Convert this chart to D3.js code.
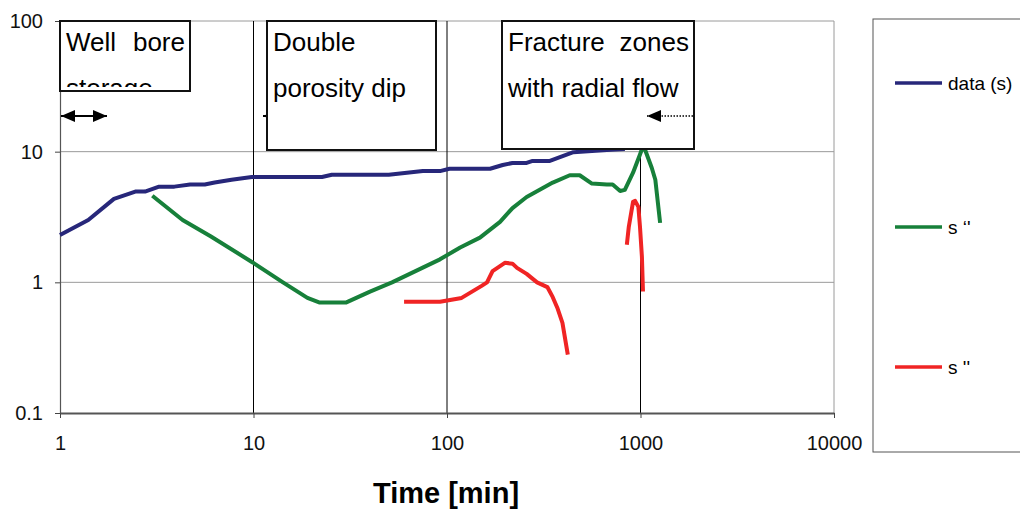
<!DOCTYPE html>
<html>
<head>
<meta charset="utf-8">
<script src="https://cdn.jsdelivr.net/npm/d3@7"></script>
<style>
  body { margin: 0; background: #fff; }
  svg { display: block; font-family: Arial, "Liberation Sans", sans-serif; }
</style>
</head>
<body>
<svg id="contenedor"></svg>
<script>
// datos: [tiempo (min), valor]
let datosS = [
  [1, 2.3], [1.4, 3.0], [1.9, 4.35], [2.45, 4.95], [2.75, 4.95], [3.25, 5.4],
  [3.9, 5.4], [4.7, 5.6], [5.6, 5.6], [6.3, 5.8], [7.7, 6.1], [9.8, 6.4],
  [22.6, 6.4], [25.4, 6.65], [50, 6.65], [75, 7.1], [92, 7.1], [103, 7.4],
  [167, 7.4], [194, 7.9], [218, 8.2], [258, 8.2], [277, 8.5], [340, 8.5],
  [450, 9.9], [670, 10.3], [830, 10.5]
];

let derivadaVerde = [
  [3.0, 4.6], [4.3, 3.0], [6.0, 2.25], [9.9, 1.42], [14.2, 1.0], [19, 0.76],
  [22, 0.7], [30, 0.7], [40, 0.85], [52, 1.0], [92, 1.5], [117, 1.85],
  [148, 2.2], [188, 2.9], [218, 3.7], [258, 4.5], [352, 5.8], [431, 6.6],
  [485, 6.6], [561, 5.7], [670, 5.6], [718, 5.6], [785, 5.0], [830, 5.1],
  [915, 6.9], [994, 9.5], [1030, 11], [1057, 10.3], [1144, 7.5], [1193, 6.1],
  [1263, 2.85]
];

// null = corte entre los dos tramos
let derivadaRoja = [
  [60, 0.71], [92, 0.71], [119, 0.76], [151, 0.94], [161, 1.0], [172, 1.22],
  [199, 1.41], [218, 1.39], [230, 1.29], [258, 1.16], [292, 1.0], [330, 0.92],
  [352, 0.77], [373, 0.63], [395, 0.49], [421, 0.28],
  null,
  [850, 1.94], [870, 2.66], [915, 4.13], [938, 4.2], [975, 3.78], [994, 2.66],
  [1017, 1.57], [1030, 0.85]
];

let ticksX = [1, 10, 100, 1000, 10000];
let ticksY = [0.1, 1, 10, 100];
let lineasGuia = [10, 100, 1000];
let nombresSeries = ["data (s)", "s \u2018'", "s ''"];

let colores = ["#27277a", "#17803a", "#f02424"];

// configuraciones de area para graficar
function getContenedorChartConfig() {
  let width = 1020;
  let height = 510;
  let margin = { top: 21, bottom: 97, left: 60, right: 186 };
  let bodyHeight = height - margin.top - margin.bottom;
  let bodyWidth = width - margin.left - margin.right;

  let container = d3.select("#contenedor");
  container.attr("width", width).attr("height", height);

  return { width, height, margin, bodyHeight, bodyWidth, container };
} // fin getContenedorChartConfig

// escalas logaritmicas
function getScales(config) {
  let { bodyWidth, bodyHeight } = config;
  let xScale = d3.scaleLog().domain([1, 10000]).range([0, bodyWidth]);
  let yScale = d3.scaleLog().domain([0.1, 100]).range([bodyHeight, 0]);
  return { xScale, yScale };
} // fin getScales

// rejilla y ejes
function dibujarAxes(scales, config) {
  let { xScale, yScale } = scales;
  let { container, margin, bodyWidth, bodyHeight } = config;

  let body = container.append("g")
    .attr("transform", `translate(${margin.left},${margin.top})`);

  // lineas horizontales grises
  body.selectAll(".gridY").data(ticksY.filter((d) => d > 0.1))
    .enter().append("line")
    .attr("x1", 0).attr("x2", bodyWidth)
    .attr("y1", (d) => yScale(d)).attr("y2", (d) => yScale(d))
    .attr("stroke", "#9a9a9a").attr("stroke-width", 1);

  // borde derecho
  body.append("line")
    .attr("x1", xScale(10000)).attr("x2", xScale(10000))
    .attr("y1", 0).attr("y2", bodyHeight)
    .attr("stroke", "#9a9a9a").attr("stroke-width", 1);

  // lineas verticales negras
  body.selectAll(".guia").data(lineasGuia)
    .enter().append("line")
    .attr("x1", (d) => xScale(d)).attr("x2", (d) => xScale(d))
    .attr("y1", 0).attr("y2", bodyHeight)
    .attr("stroke", "#000").attr("stroke-width", 1);

  let axisX = d3.axisBottom(xScale).tickValues(ticksX)
    .tickFormat((d) => String(d)).tickSize(5).tickSizeOuter(0).tickPadding(18);
  let gx = body.append("g")
    .attr("transform", `translate(0,${bodyHeight})`)
    .call(axisX);

  let axisY = d3.axisLeft(yScale).tickValues(ticksY)
    .tickFormat((d) => String(d)).tickSize(5).tickSizeOuter(0).tickPadding(12);
  let gy = body.append("g").call(axisY);

  [gx, gy].forEach((g) => {
    g.selectAll("text").attr("font-size", "20px").attr("fill", "#111")
      .attr("font-family", "Arial, 'Liberation Sans', sans-serif");
    g.selectAll(".tick line").attr("stroke", "#444");
  });
  gx.select(".domain").attr("stroke", "#555").attr("stroke-width", 2);
  gy.select(".domain").attr("stroke", "#555").attr("stroke-width", 1.2);

  // titulo eje x
  container.append("text")
    .attr("x", margin.left + xScale(100) - 1)
    .attr("y", 503)
    .attr("text-anchor", "middle")
    .attr("font-size", "29px")
    .attr("font-weight", "bold")
    .text("Time [min]");

  return body;
} // fin dibujarAxes

// dibujar las curvas
function dibujarLineas(body, scales) {
  let { xScale, yScale } = scales;
  let linea = d3.line()
    .defined((d) => d !== null)
    .x((d) => xScale(d[0]))
    .y((d) => yScale(d[1]));

  [datosS, derivadaVerde, derivadaRoja].forEach((serie, i) => {
    body.append("path")
      .datum(serie)
      .attr("d", linea)
      .attr("fill", "none")
      .attr("stroke", colores[i])
      .attr("stroke-width", 4)
      .attr("stroke-linejoin", "round");
  });
} // fin dibujarLineas

// cuadros de texto y flechas
function dibujarAnotaciones(container) {
  let defs = container.append("defs");
  defs.append("marker")
    .attr("id", "flecha")
    .attr("viewBox", "0 0 14 12")
    .attr("refX", 14).attr("refY", 6)
    .attr("markerWidth", 14).attr("markerHeight", 12)
    .attr("markerUnits", "userSpaceOnUse")
    .attr("orient", "auto-start-reverse")
    .append("path").attr("d", "M0,0 L14,6 L0,12 Z").attr("fill", "#000");

  defs.append("clipPath").attr("id", "recorte1")
    .append("rect").attr("x", 60).attr("y", 21).attr("width", 130).attr("height", 66);

  let g = container.append("g");

  // flecha tapada por el segundo cuadro
  g.append("line")
    .attr("x1", 300).attr("y1", 116).attr("x2", 263).attr("y2", 116)
    .attr("stroke", "#000").attr("stroke-width", 2)
    .attr("marker-end", "url(#flecha)");

  let cuadros = [
    { x: 60, y: 21, w: 130, h: 70, lineas: [["Well", "bore"], ["storage"]], recorte: true },
    { x: 267, y: 21, w: 169, h: 129, lineas: [["Double"], ["porosity dip"]] },
    { x: 502, y: 21, w: 192, h: 128, lineas: [["Fracture", "zones"], ["with radial flow"]] }
  ];

  cuadros.forEach((c) => {
    g.append("rect")
      .attr("x", c.x).attr("y", c.y).attr("width", c.w).attr("height", c.h)
      .attr("fill", "#fff").attr("stroke", "#111").attr("stroke-width", 2);

    let t = g.append("g");
    if (c.recorte) t.attr("clip-path", "url(#recorte1)");
    c.lineas.forEach((palabras, j) => {
      let y = c.y + 30 + j * 46;
      // primera palabra a la izquierda, la segunda justificada a la derecha
      t.append("text")
        .attr("x", c.x + 6).attr("y", y)
        .attr("font-size", "26px").attr("fill", "#000")
        .text(palabras[0]);
      if (palabras.length > 1) {
        t.append("text")
          .attr("x", c.x + c.w - 5).attr("y", y)
          .attr("text-anchor", "end")
          .attr("font-size", "26px").attr("fill", "#000")
          .text(palabras[1]);
      }
    });
  });

  // flecha doble del primer cuadro
  g.append("line")
    .attr("x1", 61).attr("y1", 116).attr("x2", 107).attr("y2", 116)
    .attr("stroke", "#000").attr("stroke-width", 2)
    .attr("marker-start", "url(#flecha)")
    .attr("marker-end", "url(#flecha)");

  // flecha punteada del tercer cuadro
  g.append("line")
    .attr("x1", 693).attr("y1", 116).attr("x2", 647).attr("y2", 116)
    .attr("stroke", "#000").attr("stroke-width", 1.5)
    .attr("stroke-dasharray", "1.5,1.5")
    .attr("marker-end", "url(#flecha)");
} // fin dibujarAnotaciones

// leyenda
function dibujarLeyenda(container) {
  let g = container.append("g");
  g.append("rect")
    .attr("x", 873).attr("y", 19).attr("width", 200).attr("height", 433)
    .attr("fill", "#fff").attr("stroke", "#555").attr("stroke-width", 1);

  let posY = [83, 227, 367];
  nombresSeries.forEach((nombre, i) => {
    g.append("line")
      .attr("x1", 895).attr("x2", 942)
      .attr("y1", posY[i]).attr("y2", posY[i])
      .attr("stroke", colores[i]).attr("stroke-width", 3.5);
    g.append("text")
      .attr("x", 948).attr("y", posY[i]).attr("dy", "0.35em")
      .attr("font-size", "19px").attr("fill", "#000")
      .text(nombre);
  });
} // fin dibujarLeyenda

function dibujarChart() {
  let config = getContenedorChartConfig();
  let scales = getScales(config);
  let body = dibujarAxes(scales, config);
  dibujarLineas(body, scales);
  dibujarAnotaciones(config.container);
  dibujarLeyenda(config.container);
} // fin dibujarChart

dibujarChart();
</script>
</body>
</html>
